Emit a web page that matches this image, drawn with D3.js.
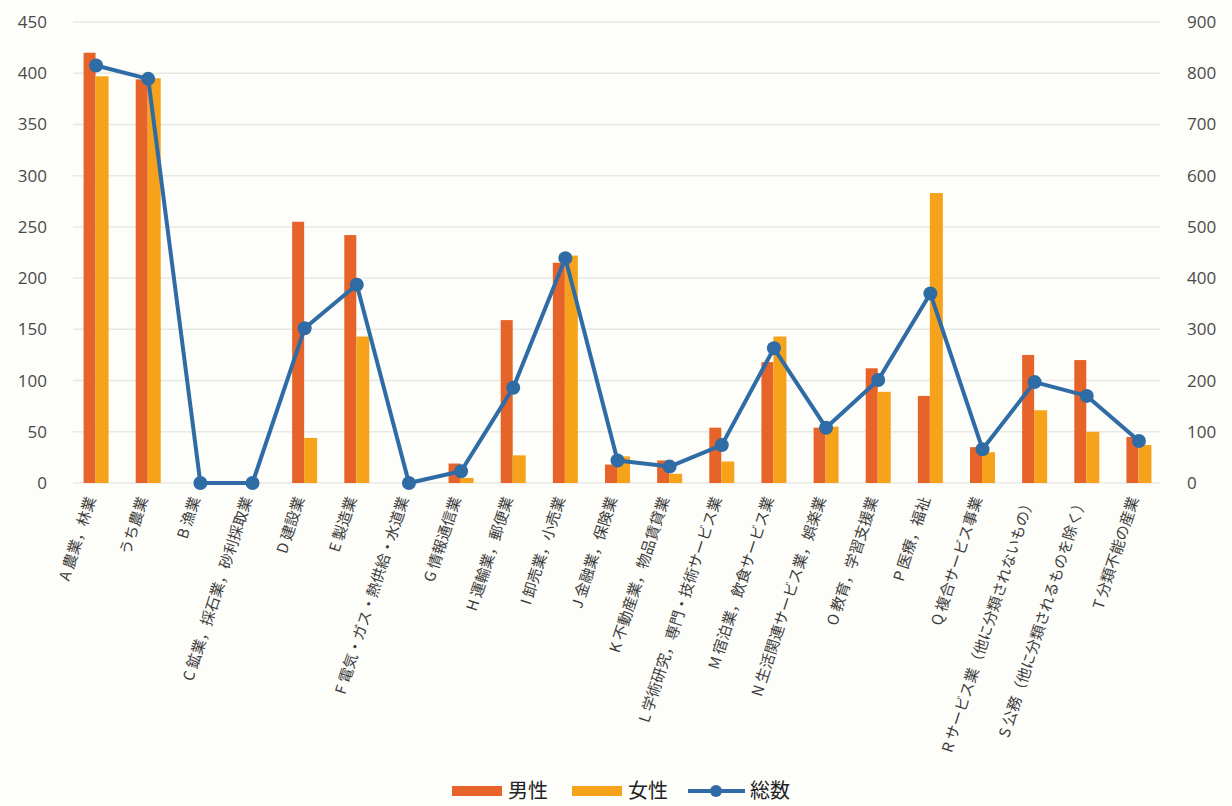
<!DOCTYPE html>
<html>
<head>
<meta charset="utf-8">
<script src="https://cdn.jsdelivr.net/npm/d3@7"></script>
<style>
  body { margin: 0; background: #fdfdf9; }
  svg { display: block; font-family: "Noto Sans CJK JP", "Noto Sans", sans-serif; }
  .tick text { fill: #4a4a4a; }
</style>
</head>
<body>
<svg id="chart" width="1232" height="806"></svg>
<script>
// 産業別 就業者数
var categories = [
    "A 農業，林業", "うち農業", "B 漁業", "C 鉱業，採石業，砂利採取業", "D 建設業",
    "E 製造業", "F 電気・ガス・熱供給・水道業", "G 情報通信業", "H 運輸業，郵便業",
    "I 卸売業，小売業", "J 金融業，保険業", "K 不動産業，物品賃貸業",
    "L 学術研究，専門・技術サービス業", "M 宿泊業，飲食サービス業",
    "N 生活関連サービス業，娯楽業", "O 教育，学習支援業", "P 医療，福祉",
    "Q 複合サービス事業", "R サービス業（他に分類されないもの）",
    "S 公務（他に分類されるものを除く）", "T 分類不能の産業"
];
var male   = [420, 394, 0, 0, 255, 242, 0, 19, 159, 215, 18, 22, 54, 118, 54, 112, 85, 35, 125, 120, 45];
var female = [397, 395, 0, 0, 44, 143, 0, 5, 27, 222, 26, 9, 21, 143, 55, 89, 283, 30, 71, 50, 37];
var total  = [815, 789, 0, 0, 302, 387, 0, 23, 186, 439, 44, 32, 74, 263, 108, 201, 370, 66, 197, 170, 82];
var leftTicks  = d3.range(0, 451, 50);
var rightTicks = d3.range(0, 901, 100);
var legendItems = ["男性", "女性", "総数"];

var colors = { male: "#e6642a", female: "#f7a21b", total: "#2f6ca6", grid: "#e8e8e4" };
var margin = { top: 22, left: 70, right: 1165, bottom: 483 };

var svg = d3.select("#chart");

var x = d3.scaleBand()
    .domain(categories)
    .range([margin.left, margin.right]);

var yL = d3.scaleLinear().domain([0, 450]).range([margin.bottom, margin.top]);
var yR = d3.scaleLinear().domain([0, 900]).range([margin.bottom, margin.top]);

// grid
svg.append("g")
    .selectAll("line")
    .data(leftTicks)
    .join("line")
    .attr("x1", 73).attr("x2", 1160)
    .attr("y1", (d) => yL(d)).attr("y2", (d) => yL(d))
    .attr("stroke", colors.grid)
    .attr("stroke-width", 1.5);

// axes
var leftAxis = svg.append("g")
    .attr("transform", "translate(47,0)")
    .call(d3.axisLeft(yL).tickValues(leftTicks).tickSize(0).tickPadding(0));
var rightAxis = svg.append("g")
    .attr("transform", "translate(1187,0)")
    .call(d3.axisRight(yR).tickValues(rightTicks).tickSize(0).tickPadding(0));
[leftAxis, rightAxis].forEach((g) => {
    g.select(".domain").remove();
    g.selectAll("text").style("font-size", "17px").style("font-family", "Open Sans, sans-serif");
});

// bars
var barW = 12;
var bars = svg.append("g");
bars.selectAll(".male")
    .data(male)
    .join("rect")
    .attr("x", (d, i) => x(categories[i]) + x.bandwidth() / 2 - barW - 0.5)
    .attr("y", (d) => yL(d))
    .attr("width", barW)
    .attr("height", (d) => yL(0) - yL(d))
    .attr("fill", colors.male);
bars.selectAll(".female")
    .data(female)
    .join("rect")
    .attr("x", (d, i) => x(categories[i]) + x.bandwidth() / 2 - 0.5)
    .attr("y", (d) => yL(d))
    .attr("width", barW + 1)
    .attr("height", (d) => yL(0) - yL(d))
    .attr("fill", colors.female);

// total line
var cx = (i) => x(categories[i]) + x.bandwidth() / 2;
svg.append("path")
    .datum(total)
    .attr("d", d3.line().x((d, i) => cx(i)).y((d) => yR(d)))
    .attr("fill", "none")
    .attr("stroke", colors.total)
    .attr("stroke-width", 4)
    .attr("stroke-linejoin", "round");
svg.append("g")
    .selectAll("circle")
    .data(total)
    .join("circle")
    .attr("cx", (d, i) => cx(i))
    .attr("cy", (d) => yR(d))
    .attr("r", 7)
    .attr("fill", colors.total);

// category labels
svg.append("g")
    .selectAll("text")
    .data(categories)
    .join("text")
    .attr("transform", (d) => `translate(${x(d) + x.bandwidth() / 2 - 5},${margin.bottom + 14}) rotate(-72)`)
    .attr("text-anchor", "end")
    .attr("dy", "0.35em")
    .style("font-size", "15px")
    .attr("fill", "#3c3c3c")
    .text((d) => d);

// legend
var legend = svg.append("g").attr("transform", "translate(452,791)");
var lx = [0, 120, 236];
legendItems.forEach((label, i) => {
    var g = legend.append("g").attr("transform", `translate(${lx[i]},0)`);
    if (i < 2) {
        g.append("rect").attr("x", 0).attr("y", -5).attr("width", 50).attr("height", 10)
            .attr("fill", i === 0 ? colors.male : colors.female);
    } else {
        g.append("line").attr("x1", 0).attr("x2", 57).attr("y1", 0).attr("y2", 0)
            .attr("stroke", colors.total).attr("stroke-width", 4);
        g.append("circle").attr("cx", 28).attr("cy", 0).attr("r", 6).attr("fill", colors.total);
    }
    g.append("text")
        .attr("x", i < 2 ? 56 : 62)
        .attr("dy", "0.35em")
        .style("font-size", "20px")
        .attr("fill", "#222")
        .text(label);
});
</script>
</body>
</html>
